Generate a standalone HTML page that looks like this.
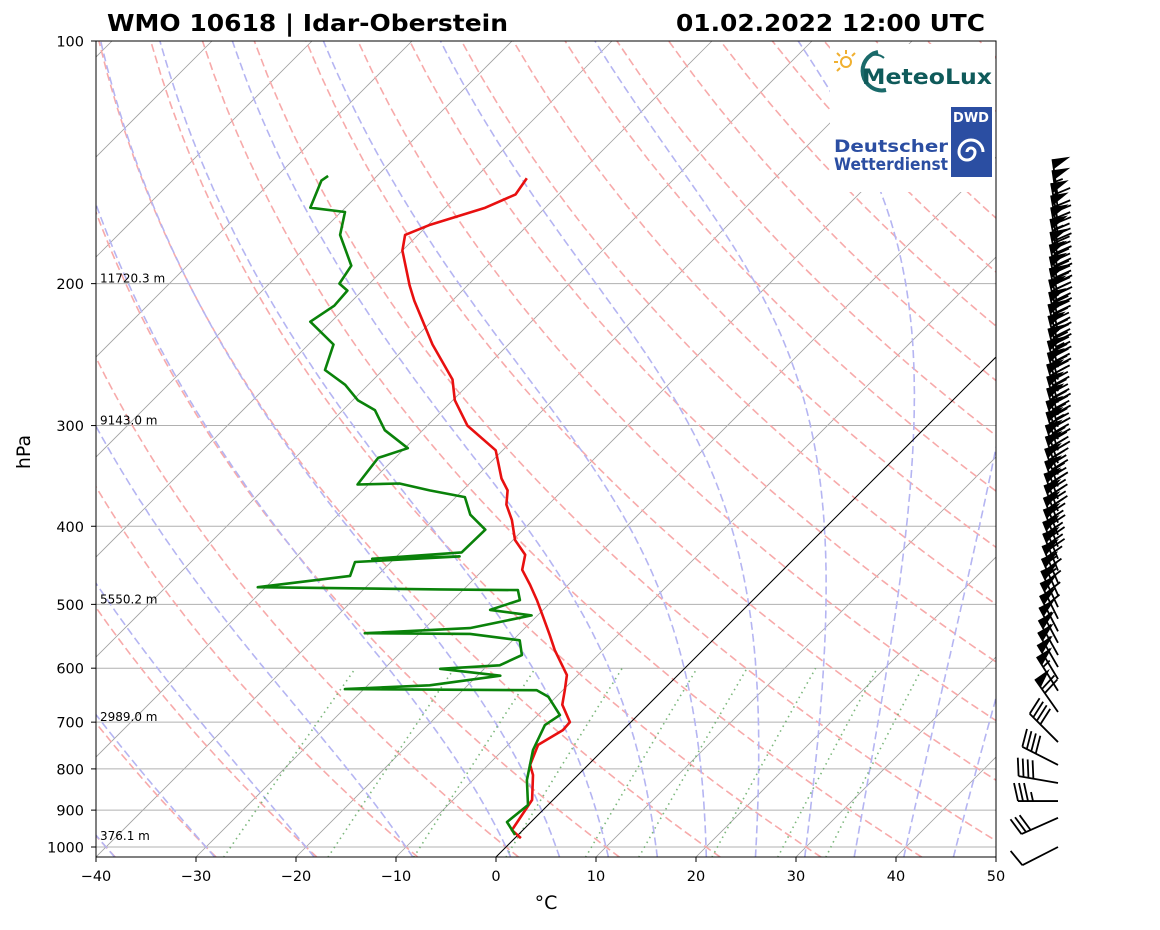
<!DOCTYPE html>
<html><head><meta charset="utf-8"><style>
body{margin:0;background:#fff;}
svg text{font-family:"DejaVu Sans","Liberation Sans",sans-serif;}
</style></head><body>
<svg id="chart" width="1160" height="925" xmlns="http://www.w3.org/2000/svg">
<defs><clipPath id="clip"><rect x="96" y="41" width="900" height="816"/></clipPath></defs>
<rect width="1160" height="925" fill="#fff"/>
<g id="grid" clip-path="url(#clip)"></g>
<g id="series" clip-path="url(#clip)"></g>
<g id="logos">
 <rect x="830" y="44" width="165" height="148" fill="#fff"/>
 <g>
  <g stroke="#f0b030" stroke-width="2">
   <circle cx="846" cy="62" r="5" fill="none"/>
   <line x1="846" y1="50" x2="846" y2="54"/><line x1="834" y1="62" x2="838" y2="62"/>
   <line x1="837" y1="53" x2="840" y2="56"/><line x1="837" y1="71" x2="840" y2="68"/>
   <line x1="855" y1="53" x2="852" y2="56"/>
  </g>
  <path d="M878 52 a19 19 0 1 0 8 38" fill="none" stroke="#1a6a6a" stroke-width="4"/>
  <path d="M884 58 a13 13 0 0 0 -20 16" fill="none" stroke="#1a6a6a" stroke-width="2"/>
  <text x="862" y="84" font-size="21" fill="#0f5a5a" font-weight="bold" textLength="130" lengthAdjust="spacingAndGlyphs">MeteoLux</text>
 </g>
 <g>
  <rect x="951" y="107" width="41" height="70" fill="#2b4ea2"/>
  <text x="971" y="122" font-size="13" fill="#fff" font-weight="bold" text-anchor="middle">DWD</text>
  <path d="M971 152 m-4 0 a4 4 0 1 1 8 0 a8 8 0 1 1 -16 0 a12 12 0 1 1 24 0" fill="none" stroke="#fff" stroke-width="3"/>
  <text x="948" y="152" font-size="17" fill="#2b4ea2" font-weight="bold" text-anchor="end" textLength="114" lengthAdjust="spacingAndGlyphs">Deutscher</text>
  <text x="948" y="170" font-size="17" fill="#2b4ea2" font-weight="bold" text-anchor="end" textLength="114" lengthAdjust="spacingAndGlyphs">Wetterdienst</text>
 </g>
</g>
<rect x="96" y="41" width="900" height="816" fill="none" stroke="#000" stroke-width="1"/>
<g id="axes"></g>
<g id="barbs"></g>
<text x="107" y="31" font-size="23" font-weight="bold" textLength="401" lengthAdjust="spacingAndGlyphs">WMO 10618 | Idar-Oberstein</text>
<text x="676" y="31" font-size="23" font-weight="bold" textLength="309" lengthAdjust="spacingAndGlyphs">01.02.2022 12:00 UTC</text>
<text x="30" y="452" font-size="19" text-anchor="middle" transform="rotate(-90 30 452)">hPa</text>
<text x="546" y="909" font-size="19" text-anchor="middle">°C</text>
</svg>
<script>
const tempP = [975,953,874,814,791,747,716,700,666,639,612,570,546,516,494,473,453,434,416,393,376,361,349,322,300,279,263,238,210,201,182,174,169,161,155,148];
const tempT = [0.6,-1.1,-2.1,-4.5,-5.8,-7.0,-6.0,-6.1,-8.6,-9.8,-11.1,-14.8,-16.8,-19.5,-21.6,-23.8,-26.1,-27.3,-29.8,-32.1,-34.2,-35.5,-37.3,-40.7,-46.0,-49.8,-52.1,-57.6,-63.8,-65.8,-70.0,-71.3,-69.8,-66.0,-64.3,-64.8];
const dewP = [966,931,887,826,758,706,686,651,639,637,630,613,601,595,578,554,544,543,535,516,508,494,480,479,476,461,443,436,439,431,404,387,368,361,354,355,329,320,304,287,279,267,256,238,223,213,204,200,190,174,163,161,149,147];
const dewT = [-0.3,-2.4,-2.0,-4.6,-7.0,-8.3,-7.8,-10.8,-12.6,-31.9,-23.8,-17.7,-24.4,-18.8,-17.6,-19.3,-24.9,-35.5,-25.5,-20.6,-25.3,-23.3,-24.5,-32.4,-50.8,-42.7,-43.6,-33.7,-42.2,-33.9,-33.8,-36.8,-39.1,-43.3,-47.0,-51.1,-51.7,-49.7,-53.8,-56.8,-59.5,-62.3,-65.8,-67.5,-72.1,-71.3,-71.5,-73.0,-73.6,-77.8,-79.6,-83.5,-85.1,-84.9];
const barbP = [157,162,168,174,180,186,193,200,207,214,221,229,237,245,254,263,272,281,291,301,312,322,334,345,357,370,383,396,410,424,439,454,470,487,504,521,540,558,578,598,619,640,680,741,791,833,877,920,1000];
const barbSpd = [50,55,65,70,75,85,85,90,90,90,90,85,90,95,90,90,85,85,90,95,95,90,90,85,85,80,80,80,75,75,70,70,65,65,60,60,60,55,55,55,55,55,70,40,40,40,35,30,10];
const barbDir = [352,352,350,350,350,349,349,348,348,348,347,347,346,346,346,345,345,344,344,344,343,343,342,342,341,341,340,340,339,339,338,338,337,336,335,334,333,332,331,330,329,328,325,315,297,280,270,246,243];
const heightP = [200,300,500,700,983];
const heightLbl = ["11720.3 m","9143.0 m","5550.2 m","2989.0 m","376.1 m"];
const xTicks = [-40,-30,-20,-10,0,10,20,30,40,50];
const yTicks = [100,200,300,400,500,600,700,800,900,1000];

const NS="http://www.w3.org/2000/svg";
const Y = p => 41 + 806*Math.log10(p/100);
const X = (T,p) => 96 + (T+40)*10 + (857 - Y(p));
function mk(tag, attrs, parent){const e=document.createElementNS(NS,tag);for(const k in attrs)e.setAttribute(k,attrs[k]);parent.appendChild(e);return e;}
const grid=document.getElementById('grid'), series=document.getElementById('series'), axes=document.getElementById('axes'), barbs=document.getElementById('barbs');
const pLevels=[];for(let p=1030;p>=100;p-=10)pLevels.push(p);
function path(pts){return pts.map((q,i)=>(i?'L':'M')+q[0].toFixed(1)+' '+q[1].toFixed(1)).join('');}
for(let t=-120;t<=50;t+=10){
  const e=mk('line',{x1:X(t,1030),y1:Y(1030),x2:X(t,100),y2:Y(100),stroke:'#a0a0a0','stroke-width':0.8},grid);
  
  
}
for(const p of yTicks){ if(p===100)continue;
  const e=mk('line',{x1:96,x2:996,y1:Y(p),y2:Y(p),stroke:'#b0b0b0','stroke-width':1},grid);
  
  
}
for(let t=-50;t<=200;t+=10){
  const pts=pLevels.map(p=>[X((t+273.15)*Math.pow(p/1000,0.2857)-273.15,p),Y(p)]);
  const e=mk('path',{d:path(pts),fill:'none',stroke:'#f7aaaa','stroke-width':1.6,'stroke-dasharray':'8,4'},grid);
  
  
}
function es(tc){return 6.112*Math.exp(17.67*tc/(tc+243.5));}
function dTdp(T,p){const tc=T-273.15;const e=es(tc);const rs=0.622*e/(p-e);
  return (287*T+2.501e6*rs)/(p*(1005+2.501e6*2.501e6*rs*0.622/(287*T*T)));}
const moistT0=[-50,-40,-30,-20,-10,0,5,10,15,20,25,30,35,40,45];
for(const t0 of moistT0){
  const up=[];let T=t0+273.15;
  for(let p=1000;p>=100;p-=2){up.push([p,T]);T-=dTdp(T,p)*2;}
  const dn=[];T=t0+273.15;
  for(let p=1000;p<=1030;p+=2){dn.push([p,T]);T+=dTdp(T,p)*2;}
  const all=dn.reverse().concat(up);
  const e=mk('path',{d:path(all.map(a=>[X(a[1]-273.15,a[0]),Y(a[0])])),fill:'none',stroke:'#b5b5f2','stroke-width':1.6,'stroke-dasharray':'8,4'},grid);
  
  
}
const mixW=[0.0004,0.001,0.002,0.004,0.007,0.01,0.016,0.024,0.032];
for(const w of mixW){
  const pts=[];for(let p=1030;p>=600;p-=10){const e=w*p/(0.622+w);const l=Math.log(e/6.112);const td=243.5*l/(17.67-l);pts.push([X(td,p),Y(p)]);}
  const e=mk('path',{d:path(pts),fill:'none',stroke:'#5aa55a','stroke-width':1.6,'stroke-dasharray':'1.5,4','stroke-opacity':0.8},grid);
  
  
}
const z=mk('line',{x1:X(0,1030),y1:Y(1030),x2:X(0,100),y2:Y(100),stroke:'#000','stroke-width':1},grid);


const tl=mk('path',{d:path(tempP.map((p,i)=>[X(tempT[i],p),Y(p)])),fill:'none',stroke:'#e81010','stroke-width':2.6,'stroke-linejoin':'round'},series);


const dl=mk('path',{d:path(dewP.map((p,i)=>[X(dewT[i],p),Y(p)])),fill:'none',stroke:'#0a820a','stroke-width':2.6,'stroke-linejoin':'round'},series);


heightP.forEach((p,i)=>{
  const t=mk('text',{x:100,y:Y(p)-1,'font-size':12},series);t.textContent=heightLbl[i];
  
  
});
xTicks.forEach(v=>{
  const x=96+(v+40)*10;
  mk('line',{x1:x,x2:x,y1:857,y2:862,stroke:'#000'},axes);
  const t=mk('text',{x:x,y:881,'font-size':14.5,'text-anchor':'middle'},axes);t.textContent=(v<0?'\u2212'+(-v):v);
  
  
});
yTicks.forEach(v=>{
  const y=Y(v);
  mk('line',{x1:91,x2:96,y1:y,y2:y,stroke:'#000'},axes);
  const t=mk('text',{x:84,y:y+5.5,'font-size':14.5,'text-anchor':'end'},axes);t.textContent=v;
  
  
});
const L=40,H=18,W=10,SP=5;
barbP.forEach((p,i)=>{
  const bx=1058,by=Y(p);const a=barbDir[i]*Math.PI/180;
  const d=[Math.sin(a),-Math.cos(a)],pr=[-d[1],d[0]];
  const P=s=>[bx+d[0]*s,by+d[1]*s];
  const g=mk('g',{},barbs);
  
  
  mk('line',{x1:bx,y1:by,x2:P(L)[0],y2:P(L)[1],stroke:'#000','stroke-width':1.8},g);
  let s=barbSpd[i],pos=L;
  while(s>=50){const a1=P(pos),a2=P(pos-W);
    mk('polygon',{points:`${a1[0]},${a1[1]} ${a1[0]+pr[0]*H},${a1[1]+pr[1]*H} ${a2[0]},${a2[1]}`,fill:'#000'},g);
    pos-=W+2;s-=50;}
  while(s>=10){const a1=P(pos);mk('line',{x1:a1[0],y1:a1[1],x2:a1[0]+pr[0]*H+d[0]*4,y2:a1[1]+pr[1]*H+d[1]*4,stroke:'#000','stroke-width':1.8},g);pos-=SP;s-=10;}
  if(s>=5){const a1=P(pos);mk('line',{x1:a1[0],y1:a1[1],x2:a1[0]+pr[0]*H/2+d[0]*2,y2:a1[1]+pr[1]*H/2+d[1]*2,stroke:'#000','stroke-width':1.8},g);}
});
</script>
</body></html>
